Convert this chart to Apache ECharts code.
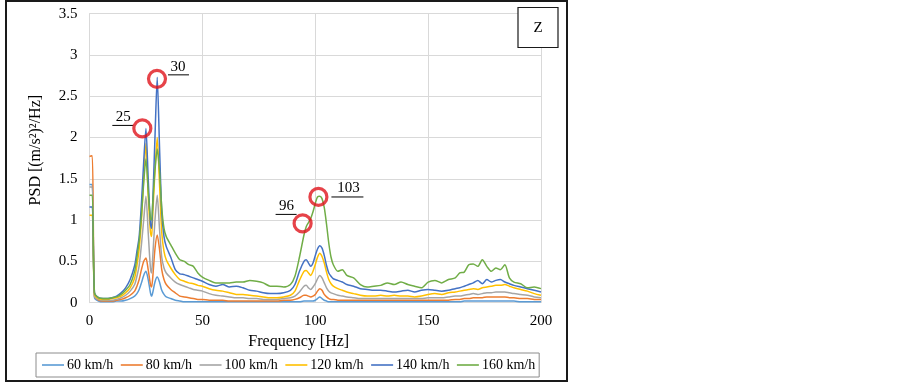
<!DOCTYPE html>
<html>
<head>
<meta charset="utf-8">
<script src="https://cdn.jsdelivr.net/npm/echarts@6/dist/echarts.min.js"></script>
<style>
  html, body { margin: 0; padding: 0; background: #fff; }
  #chart { width: 903px; height: 383px; }
</style>
</head>
<body>
<div id="chart"></div>
<script>
// frequency grid (Hz) shared by all series
const freq = [0, 1.2, 2.2, 4, 6, 8, 10, 12, 14, 16,
  18, 20, 21, 22, 23, 24, 25, 26, 27, 27.5,
  28, 29, 30, 31, 32, 33, 34, 36, 38, 40,
  42, 44, 46, 48, 50, 53, 56, 59, 62, 65,
  68, 71, 74, 77, 80, 83, 86, 89, 91, 93,
  95, 96, 97, 98, 99, 100, 101, 102, 103, 104,
  105, 106, 107, 108, 110, 112, 114, 117, 120, 123,
  126, 129, 132, 135, 138, 141, 144, 147, 150, 153,
  156, 159, 162, 164, 166, 168, 170, 172, 174, 176,
  178, 180, 182, 184, 186, 188, 191, 194, 197, 200];

const psd60 = [1.43, 1.43, 0.06, 0.02, 0.01, 0.01, 0.01, 0.02, 0.02, 0.03,
  0.05, 0.08, 0.11, 0.16, 0.24, 0.33, 0.38, 0.28, 0.12, 0.08,
  0.12, 0.25, 0.31, 0.25, 0.15, 0.1, 0.07, 0.05, 0.03, 0.02,
  0.01, 0.01, 0.01, 0.01, 0.01, 0.01, 0.01, 0.01, 0.01, 0.01,
  0.01, 0.01, 0.01, 0.01, 0.01, 0.01, 0.01, 0.01, 0.01, 0.01,
  0.02, 0.02, 0.02, 0.02, 0.02, 0.03, 0.05, 0.07, 0.05, 0.03,
  0.02, 0.01, 0.01, 0.01, 0.01, 0.01, 0.01, 0.01, 0.01, 0.01,
  0.01, 0.01, 0.01, 0.01, 0.01, 0.01, 0.01, 0.01, 0.01, 0.01,
  0.01, 0.01, 0.01, 0.01, 0.02, 0.02, 0.02, 0.02, 0.02, 0.02,
  0.02, 0.02, 0.02, 0.02, 0.02, 0.02, 0.01, 0.01, 0.01, 0.01];

const psd80 = [1.77, 1.78, 0.08, 0.03, 0.02, 0.02, 0.02, 0.03, 0.04, 0.06,
  0.09, 0.14, 0.2, 0.28, 0.4, 0.5, 0.54, 0.4, 0.22, 0.19,
  0.3, 0.65, 0.82, 0.65, 0.4, 0.28, 0.22, 0.16, 0.12, 0.08,
  0.07, 0.06, 0.05, 0.04, 0.04, 0.03, 0.03, 0.03, 0.02, 0.02,
  0.02, 0.02, 0.02, 0.02, 0.02, 0.02, 0.03, 0.03, 0.04, 0.06,
  0.09, 0.09, 0.08, 0.07, 0.08, 0.1, 0.14, 0.17, 0.15, 0.1,
  0.07, 0.05, 0.04, 0.04, 0.03, 0.03, 0.03, 0.03, 0.03, 0.03,
  0.03, 0.03, 0.03, 0.03, 0.03, 0.03, 0.03, 0.03, 0.03, 0.03,
  0.03, 0.03, 0.04, 0.04, 0.05, 0.05, 0.06, 0.06, 0.06, 0.07,
  0.07, 0.07, 0.07, 0.07, 0.06, 0.06, 0.05, 0.05, 0.04, 0.04];

const psd100 = [1.4, 1.4, 0.08, 0.04, 0.03, 0.03, 0.03, 0.04, 0.06, 0.09,
  0.14, 0.22, 0.32, 0.45, 0.7, 1.0, 1.29, 0.85, 0.42, 0.36,
  0.55, 1.0, 1.3, 0.9, 0.55, 0.42, 0.36, 0.3, 0.25, 0.22,
  0.2, 0.18, 0.16, 0.15, 0.14, 0.11, 0.09, 0.08, 0.07, 0.06,
  0.06, 0.05, 0.05, 0.04, 0.04, 0.04, 0.05, 0.06, 0.08, 0.13,
  0.2, 0.21, 0.18, 0.16, 0.19, 0.23, 0.29, 0.33, 0.3, 0.24,
  0.18, 0.14, 0.12, 0.11, 0.09, 0.08, 0.07, 0.06, 0.05, 0.05,
  0.05, 0.05, 0.05, 0.05, 0.05, 0.05, 0.05, 0.05, 0.06, 0.06,
  0.06, 0.07, 0.08, 0.08, 0.09, 0.1, 0.11, 0.1, 0.11, 0.12,
  0.12, 0.13, 0.13, 0.13, 0.12, 0.11, 0.1, 0.09, 0.07, 0.06];

const psd120 = [1.06, 1.06, 0.1, 0.05, 0.04, 0.04, 0.05, 0.06, 0.08, 0.12,
  0.18, 0.3, 0.45, 0.65, 1.0, 1.5, 1.93, 1.3, 0.85, 0.8,
  1.05, 1.6, 2.0, 1.45, 0.85, 0.62, 0.52, 0.42, 0.34, 0.28,
  0.26, 0.24, 0.23, 0.21, 0.2, 0.17, 0.15, 0.14, 0.12, 0.1,
  0.1, 0.09, 0.08, 0.07, 0.06, 0.06, 0.07, 0.09, 0.14, 0.27,
  0.38, 0.39, 0.36, 0.33, 0.38, 0.46, 0.55, 0.6, 0.56, 0.48,
  0.37, 0.28, 0.23, 0.2, 0.17, 0.15, 0.13, 0.11, 0.09, 0.08,
  0.08, 0.09, 0.08, 0.09, 0.08, 0.08, 0.07, 0.08, 0.1, 0.11,
  0.1, 0.12, 0.13, 0.14, 0.15, 0.16, 0.17, 0.16, 0.18, 0.19,
  0.2, 0.21, 0.21, 0.22, 0.2, 0.18, 0.16, 0.14, 0.11, 0.09];

const psd140 = [1.16, 1.16, 0.12, 0.06, 0.05, 0.05, 0.06, 0.08, 0.12, 0.18,
  0.28, 0.45, 0.62, 0.8, 1.2, 1.7, 2.11, 1.5, 0.95, 0.9,
  1.2, 2.0, 2.73, 1.9, 1.1, 0.8, 0.68, 0.55, 0.4, 0.35,
  0.34, 0.32, 0.3, 0.28, 0.26, 0.22, 0.2, 0.22, 0.19, 0.2,
  0.18, 0.15, 0.14, 0.12, 0.11, 0.11, 0.12, 0.15, 0.22, 0.38,
  0.5, 0.52, 0.48, 0.44, 0.48, 0.57, 0.65, 0.69, 0.66, 0.57,
  0.45, 0.36, 0.32, 0.29, 0.27, 0.25, 0.22, 0.2, 0.17, 0.16,
  0.15, 0.15, 0.14, 0.13, 0.14, 0.15, 0.13, 0.15, 0.16, 0.15,
  0.14, 0.15, 0.17, 0.18, 0.2, 0.22, 0.24, 0.27, 0.23, 0.28,
  0.25, 0.27, 0.28, 0.25, 0.23, 0.21, 0.19, 0.17, 0.15, 0.13];

const psd160 = [1.3, 1.3, 0.12, 0.06, 0.05, 0.05, 0.06, 0.07, 0.1, 0.15,
  0.22, 0.38, 0.55, 0.75, 1.05, 1.45, 1.74, 1.35, 1.02, 1.0,
  1.2, 1.6, 1.86, 1.6, 1.15, 0.9, 0.8, 0.7, 0.6, 0.52,
  0.5, 0.46, 0.44, 0.36, 0.31, 0.27, 0.24, 0.24, 0.24, 0.25,
  0.25, 0.27, 0.26, 0.24, 0.2, 0.2, 0.19, 0.22, 0.32, 0.55,
  0.82, 0.92, 0.97, 1.02, 1.1, 1.2, 1.28, 1.29, 1.26, 1.15,
  0.95, 0.72, 0.55, 0.46, 0.38, 0.4, 0.33, 0.3, 0.22, 0.19,
  0.2, 0.21, 0.24, 0.22, 0.25, 0.22, 0.2, 0.18, 0.25, 0.27,
  0.24, 0.28, 0.3, 0.36, 0.37, 0.46, 0.47, 0.44, 0.52, 0.44,
  0.38, 0.42, 0.4, 0.46, 0.3, 0.25, 0.23, 0.18, 0.19, 0.17];

const speedNames = ['60 km/h', '80 km/h', '100 km/h', '120 km/h', '140 km/h', '160 km/h'];
const speedData = [psd60, psd80, psd100, psd120, psd140, psd160];
const colors = ['#5B9BD5', '#ED7D31', '#A5A5A5', '#FFC000', '#4472C4', '#70AD47'];

// highlighted peaks (red circles) and their labels
const peakFreq = [23.4, 29.9, 94.4, 101.4];
const peakPsd = [2.11, 2.71, 0.96, 1.28];
const peakLabels = ['25', '30', '96', '103'];
// label placement relative to circle centre: text dx, dy, underline x0, x1, dy
const labelLayout = [
  [-19, -11, -30, -9, -3],
  [21, -12, 11, 32, -4],
  [-16, -17, -27, -6, -9],
  [30, -9, 13, 45, 0]
];

const serif = '"Liberation Serif", "Times New Roman", serif';

const chart = echarts.init(document.getElementById('chart'));

const series = speedNames.map((name, i) => ({
  name: name,
  type: 'line',
  data: freq.map((f, j) => [f, speedData[i][j]]),
  symbol: 'none',
  smooth: 0.25,
  lineStyle: { width: 1.5, color: colors[i] },
  itemStyle: { color: colors[i] },
  z: 2 + i
}));

series.push({
  name: 'peaks',
  type: 'scatter',
  data: peakFreq.map((f, i) => [f, peakPsd[i]]),
  symbol: 'circle',
  symbolSize: 17,
  itemStyle: { color: 'rgba(0,0,0,0)', borderColor: '#E0141B', borderWidth: 3.2 },
  silent: true,
  z: 20
});

chart.setOption({
  animation: false,
  backgroundColor: '#fff',
  grid: { left: 89.5, right: 362, top: 13.6, bottom: 80.3 },
  xAxis: {
    type: 'value',
    min: 0, max: 200, interval: 50,
    name: 'Frequency [Hz]',
    nameLocation: 'middle',
    nameGap: 26,
    nameTextStyle: { fontFamily: serif, fontSize: 16, color: '#000', padding: [0, 33, 0, 0] },
    axisLine: { show: true, lineStyle: { color: '#d9d9d9' } },
    axisTick: { show: false },
    axisLabel: { fontFamily: serif, fontSize: 15, color: '#000', margin: 11 },
    splitLine: { show: true, lineStyle: { color: '#d9d9d9' } }
  },
  yAxis: {
    type: 'value',
    min: 0, max: 3.5, interval: 0.5,
    name: 'PSD [(m/s²)²/Hz]',
    nameLocation: 'middle',
    nameGap: 46,
    nameTextStyle: { fontFamily: serif, fontSize: 16, color: '#000', padding: [0, 0, 0, 16] },
    axisLine: { show: true, lineStyle: { color: '#d9d9d9' } },
    axisTick: { show: false },
    axisLabel: { fontFamily: serif, fontSize: 15, color: '#000', margin: 12 },
    splitLine: { show: true, lineStyle: { color: '#d9d9d9' } }
  },
  legend: {
    data: speedNames,
    left: 36,
    top: 353,
    padding: [5, 4, 5, 6],
    icon: 'rect',
    itemWidth: 22,
    itemHeight: 1.6,
    itemGap: 7.5,
    borderColor: '#8c8c8c',
    borderWidth: 1,
    textStyle: { fontFamily: serif, fontSize: 14, color: '#000', padding: [0, 0, 0, -2] }
  },
  series: series
});

// annotations: labels + underlines placed from the peak data through the axes
const graphics = [
  {
    type: 'rect',
    shape: { x: 6, y: 1, width: 561, height: 380 },
    style: { fill: 'none', stroke: '#1a1a1a', lineWidth: 2 },
    silent: true
  },
  {
    type: 'rect',
    shape: { x: 518, y: 7.5, width: 40, height: 40 },
    style: { fill: '#fff', stroke: '#1a1a1a', lineWidth: 1.2 },
    z: 10
  },
  {
    type: 'text',
    x: 538, y: 28,
    style: { text: 'Z', font: '15px ' + serif, fill: '#000', align: 'center', verticalAlign: 'middle' },
    z: 11
  }
];

peakFreq.forEach((f, i) => {
  const p = chart.convertToPixel({ gridIndex: 0 }, [f, peakPsd[i]]);
  const lay = labelLayout[i];
  graphics.push({
    type: 'text',
    x: p[0] + lay[0], y: p[1] + lay[1],
    style: { text: peakLabels[i], font: '15px ' + serif, fill: '#000', align: 'center', verticalAlign: 'middle' },
    z: 12
  });
  graphics.push({
    type: 'line',
    shape: { x1: p[0] + lay[2], y1: p[1] + lay[4], x2: p[0] + lay[3], y2: p[1] + lay[4] },
    style: { stroke: '#000', lineWidth: 1 },
    z: 12
  });
});

chart.setOption({ graphic: graphics });
</script>
</body>
</html>
